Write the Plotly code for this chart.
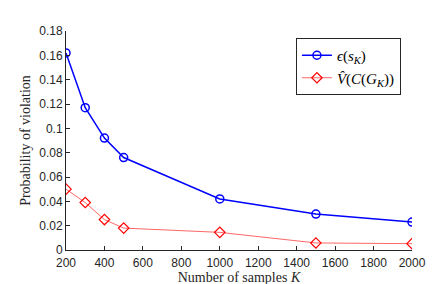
import plotly.graph_objects as go

samples = [200, 300, 400, 500, 1000, 1500, 2000]
eps_sK = [0.162, 0.117, 0.092, 0.076, 0.042, 0.0295, 0.023]
v_hat = [0.050, 0.039, 0.025, 0.018, 0.0145, 0.0058, 0.0052]

x_ticks = [200, 400, 600, 800, 1000, 1200, 1400, 1600, 1800, 2000]
y_ticks = [0, 0.02, 0.04, 0.06, 0.08, 0.1, 0.12, 0.14, 0.16, 0.18]
y_labels = ["0", "0.02", "0.04", "0.06", "0.08", "0.1", "0.12", "0.14", "0.16", "0.18"]

fig = go.Figure()
fig.add_trace(go.Scatter(
    x=samples, y=eps_sK, mode="lines+markers",
    name="<i>ϵ</i>(<i>s</i><sub><i>K</i></sub>)",
    line=dict(color="#0000FF", width=1.5),
    marker=dict(symbol="circle-open", size=8, color="#0000FF", line=dict(width=1.5)),
))
fig.add_trace(go.Scatter(
    x=samples, y=v_hat, mode="lines+markers",
    name="<i>V̂</i>(<i>C</i>(<i>G</i><sub><i>K</i></sub>))",
    line=dict(color="#FF4040", width=0.8),
    marker=dict(symbol="diamond-open", size=8, color="#FF0000", line=dict(width=1.2)),
))

axis_common = dict(
    showgrid=False, zeroline=False, showline=True, linecolor="#262626", linewidth=1,
    ticks="inside", ticklen=4, tickcolor="#262626",
    tickfont=dict(family="Liberation Sans, Arial, sans-serif", size=12, color="#262626"),
)
fig.update_xaxes(range=[200, 2000], tickvals=x_ticks, ticklabelstandoff=2,
                 title=dict(text="Number of samples <i>K</i>", standoff=0,
                            font=dict(family="Liberation Serif, serif", size=14, color="#262626")),
                 **axis_common)
fig.update_yaxes(range=[0, 0.18], tickvals=y_ticks, ticktext=y_labels,
                 title=dict(text="Probability of violation", standoff=5,
                            font=dict(family="Liberation Serif, serif", size=14, color="#262626")),
                 **axis_common)

fig.update_layout(
    width=447, height=284,
    margin=dict(l=58, r=43, t=23, b=34),
    paper_bgcolor="white", plot_bgcolor="white",
    legend=dict(x=0.968, y=0.968, xanchor="right", yanchor="top",
                bordercolor="#262626", borderwidth=1, bgcolor="white",
                font=dict(family="Liberation Serif, serif", size=15, color="black"),
                tracegroupgap=0, itemwidth=30),
    showlegend=True,
)

fig.write_html("out.html")
